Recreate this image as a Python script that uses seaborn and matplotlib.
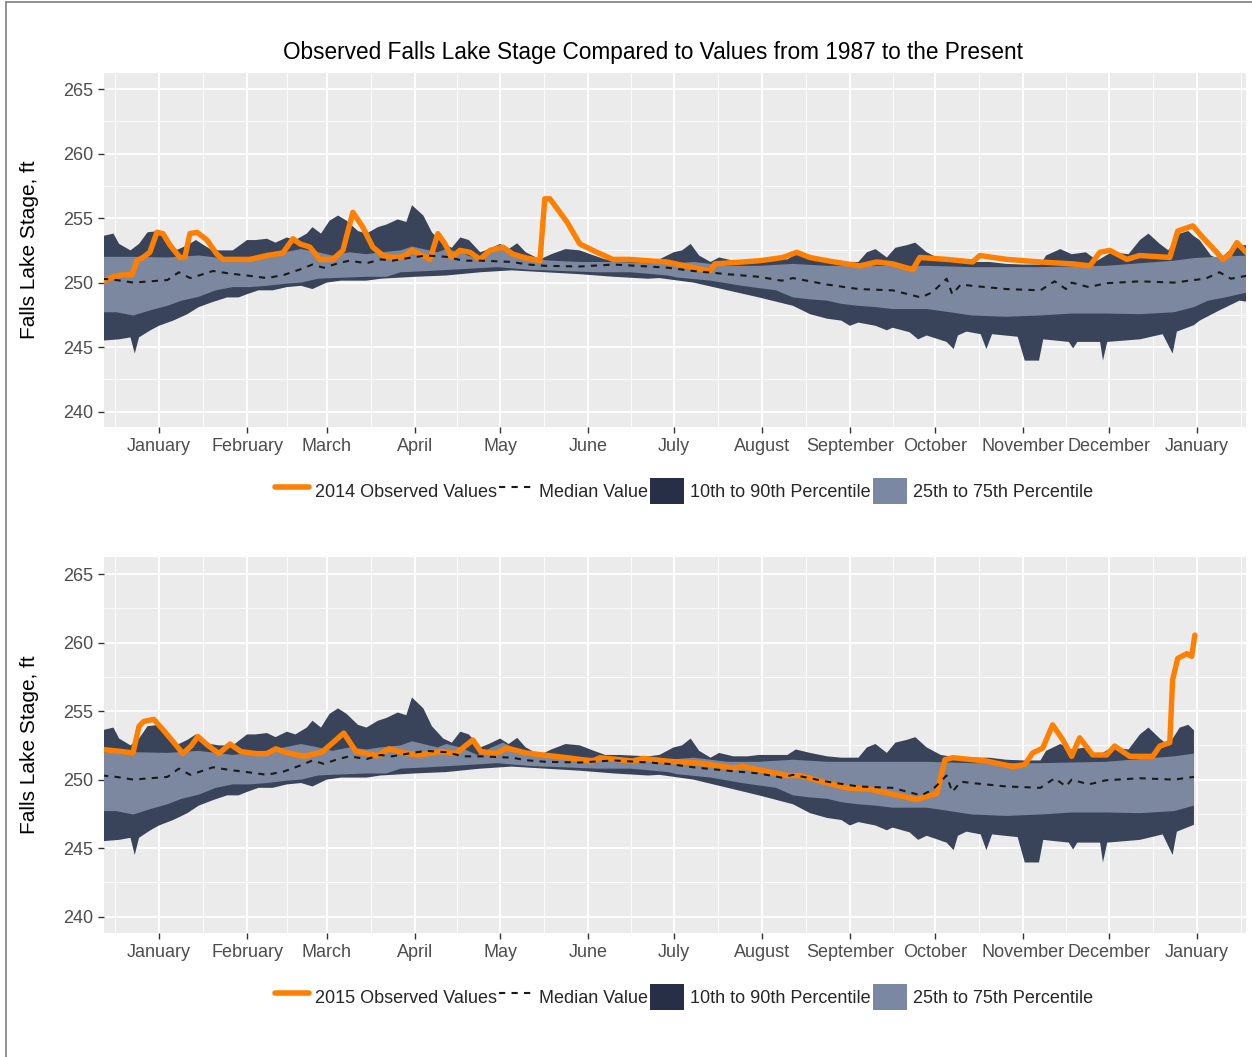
import matplotlib
matplotlib.use("Agg")
import matplotlib.pyplot as plt
import seaborn as sns
from matplotlib.patches import Patch
from matplotlib.lines import Line2D

# ========== DATA (x = days from Jan 1; negative = December of prior year) ==========
month_days = [0, 31, 59, 90, 120, 151, 181, 212, 243, 273, 304, 334, 365]
month_names = ['January', 'February', 'March', 'April', 'May', 'June', 'July',
               'August', 'September', 'October', 'November', 'December', 'January']
y_ticks = [240, 245, 250, 255, 260, 265]

# 10th to 90th percentile envelope
p90_day = [-20, -16, -14, -10, -7, -4, 0, 3, 6, 10, 13, 18, 21, 26, 31, 34, 38, 41, 45, 48,
           52, 54, 57, 60, 63, 66, 70, 73, 77, 80, 84, 87, 89, 93, 96, 100, 103, 106, 109, 113,
           116, 120, 123, 126, 129, 134, 138, 143, 148, 153, 157, 162, 167, 172, 176, 181, 184, 187, 190, 194,
           197, 202, 207, 211, 216, 221, 224, 229, 235, 240, 246, 249, 252, 256, 259, 263, 266, 270, 275, 281,
           286, 292, 298, 304, 310, 312, 317, 321, 326, 330, 335, 341, 345, 348, 352, 355, 359, 362, 364, 366,
           370, 373, 377, 380, 383]
p90_val = [253.6, 253.8, 253.0, 252.5, 253.0, 253.9, 254.0, 253.3, 252.5, 252.9, 253.3, 252.6, 252.5, 252.5, 253.3, 253.3, 253.4, 253.1, 253.5, 253.3,
           253.8, 254.3, 253.8, 254.8, 255.2, 254.8, 254.0, 253.8, 254.3, 254.5, 254.9, 254.7, 256.0, 255.2, 253.9, 253.0, 252.7, 253.5, 253.3, 252.35,
           252.6, 253.0, 252.6, 253.05, 252.35, 251.8, 252.2, 252.6, 252.5, 252.1, 251.8, 251.8, 251.75, 251.7, 251.8, 252.35, 252.5, 253.0, 252.1, 251.6,
           251.95, 251.7, 251.7, 251.8, 251.8, 251.8, 252.2, 251.95, 251.7, 251.6, 251.6, 252.35, 252.6, 251.95, 252.7, 252.9, 253.1, 252.35, 251.8, 251.6,
           251.6, 251.6, 251.45, 251.4, 251.4, 252.1, 252.6, 252.2, 252.35, 251.7, 252.35, 252.2, 253.3, 253.8, 253.0, 252.5, 253.8, 254.0, 253.6, 253.3,
           252.1, 251.8, 252.6, 252.9, 252.9]

p10_day = [-20, -14, -10, -8.5, -7, -3, 0, 5, 10, 14, 19, 24, 28, 31, 35, 40, 45, 50, 54, 59,
           64, 73, 78, 90, 101, 113, 124, 136, 148, 160, 172, 176, 188, 200, 211, 223, 229, 235, 240, 243,
           246, 252, 256, 258, 264, 267, 270, 277, 279.5, 281, 284, 289, 291, 293, 302, 304.5, 309.5, 311, 320, 321.5,
           323, 331, 332, 333.5, 345, 353, 356.5, 358, 364, 366, 373, 380, 383]
p10_val = [245.5, 245.6, 245.75, 244.5, 245.75, 246.3, 246.65, 247.05, 247.55, 248.1, 248.5, 248.85, 248.85, 249.1, 249.4, 249.4, 249.65, 249.75, 249.5, 250.0,
           250.15, 250.15, 250.3, 250.45, 250.55, 250.8, 250.95, 250.8, 250.65, 250.45, 250.3, 250.35, 250.0, 249.4, 248.85, 248.2, 247.55, 247.2, 247.05, 246.65,
           246.9, 246.65, 246.3, 246.5, 246.15, 245.6, 245.9, 245.4, 244.85, 245.9, 246.2, 246.0, 244.85, 246.0, 245.8, 243.95, 243.95, 245.6, 245.4, 244.9,
           245.4, 245.4, 243.95, 245.4, 245.6, 246.0, 244.5, 246.2, 246.7, 247.05, 247.85, 248.6, 248.5]

# 25th to 75th percentile envelope
p75_day = [-20, -9, 3, 14, 26, 38, 50, 56, 61, 67, 73, 78, 85, 89, 93, 98, 101, 106, 112, 117,
           121, 127, 133, 138, 148, 160, 172, 179, 188, 200, 211, 223, 235, 247, 258, 270, 286, 310, 333, 357,
           364, 372, 383]
p75_val = [252.0, 252.0, 251.95, 252.1, 251.8, 252.1, 252.6, 252.35, 252.1, 252.35, 252.2, 252.35, 252.5, 252.8, 252.6, 252.35, 252.6, 252.35, 251.8, 252.35,
           252.7, 252.1, 251.8, 251.7, 251.6, 251.6, 251.5, 251.45, 251.6, 251.3, 251.3, 251.45, 251.3, 251.3, 251.3, 251.3, 251.2, 251.2, 251.3, 251.7,
           251.9, 252.0, 252.1]

p25_day = [-20, -15, -9, -3, 3, 8, 14, 20, 26, 32, 38, 44, 50, 56, 61, 73, 80, 85, 95, 107,
           119, 130, 142, 154, 166, 179, 182, 194, 205, 217, 223, 229, 235, 240, 246, 252, 258, 264, 270, 275,
           286, 298, 310, 321, 333, 345, 357, 364, 369, 375, 383]
p25_val = [247.7, 247.7, 247.45, 247.85, 248.2, 248.6, 248.9, 249.4, 249.65, 249.65, 249.75, 249.9, 250.0, 250.3, 250.35, 250.45, 250.45, 250.8, 250.9, 251.05,
           251.2, 251.0, 250.9, 250.8, 250.8, 250.55, 250.4, 250.15, 249.75, 249.4, 248.85, 248.7, 248.6, 248.35, 248.2, 248.1, 247.95, 247.95, 247.95, 247.8,
           247.45, 247.35, 247.45, 247.6, 247.6, 247.55, 247.7, 248.1, 248.6, 248.85, 249.25]

# Median
med_day = [-20, -15, -9, -3, 3, 7, 11, 14, 19, 25, 31, 38, 44, 50, 54, 58, 63, 67, 73, 78,
           82, 89, 94, 101, 107, 113, 119, 124, 130, 136, 148, 160, 172, 179, 188, 200, 211, 219, 223, 235,
           246, 258, 268, 272, 277, 279, 282, 286, 298, 310, 315, 319, 321, 327, 333, 345, 357, 364, 368, 373,
           377, 383]
med_val = [250.3, 250.2, 250.0, 250.1, 250.2, 250.8, 250.35, 250.55, 250.9, 250.7, 250.55, 250.35, 250.6, 251.05, 251.4, 251.15, 251.5, 251.7, 251.5, 251.8,
           251.7, 251.95, 252.1, 252.0, 251.7, 251.7, 251.65, 251.6, 251.4, 251.3, 251.25, 251.4, 251.25, 251.15, 250.9, 250.65, 250.45, 250.15, 250.35, 249.85,
           249.5, 249.4, 248.85, 249.25, 250.3, 249.1, 249.85, 249.75, 249.5, 249.4, 250.1, 249.5, 250.0, 249.65, 249.95, 250.1, 250.0, 250.2, 250.3, 250.8,
           250.3, 250.55]

# Observed 2014
obs14_day = [-20, -16, -13, -9.5, -7.7, -5.6, -3.2, -0.7, 1.4, 3.9, 7.4, 9.1, 10.9, 13.4, 16.9, 20.4, 22.5, 32, 38, 43.6,
             47.1, 49.6, 53.1, 56.6, 61.2, 64.7, 68.2, 71.7, 75.2, 78.8, 82.3, 85.8, 89, 91.8, 95.3, 98.1, 100.6, 103, 105.8, 109.4,
             112.9, 116.4, 121, 124.5, 129.4, 134, 135.7, 137.5, 143.5, 148, 154, 159.6, 165.6, 171.6, 178.6, 193.7, 195.5, 205.3, 211.3, 214.8,
             219.4, 224.3, 228.9, 234.9, 240.5, 246.5, 252.5, 258.1, 265.1, 267.6, 277.1, 286.2, 288.7, 298.2, 309.8, 321.4, 327.4, 330.9, 334.4, 340.4,
             344.9, 355.5, 358.3, 363.6, 367.1, 372, 374.1, 376.6, 379.1, 383]
obs14_val = [250.1, 250.45, 250.6, 250.6, 251.7, 251.95, 252.35, 253.9, 253.8, 252.9, 251.95, 251.95, 253.8, 253.9, 253.3, 252.2, 251.8, 251.8, 252.1, 252.3,
             253.4, 253.0, 252.75, 251.8, 251.8, 252.5, 255.45, 254.3, 252.75, 252.1, 251.95, 252.0, 252.5, 252.2, 251.8, 253.8, 253.0, 251.95, 252.5, 252.35,
             251.8, 252.5, 252.75, 252.2, 251.9, 251.7, 256.5, 256.5, 254.7, 253.0, 252.35, 251.8, 251.8, 251.7, 251.6, 250.9, 251.45, 251.6, 251.7, 251.8,
             251.95, 252.35, 251.95, 251.7, 251.5, 251.3, 251.6, 251.45, 251.0, 251.95, 251.8, 251.6, 252.1, 251.8, 251.6, 251.45, 251.3, 252.35, 252.5, 251.8,
             252.1, 251.95, 254.0, 254.4, 253.5, 252.35, 251.8, 252.2, 253.1, 252.2]

# Observed 2015
obs15_day = [-20, -13, -9.1, -7, -5.3, -1.8, 1.4, 5.3, 8.4, 11.3, 13.7, 16.9, 21.1, 25, 28.8, 34.1, 38, 41.1, 44.3, 51,
             57.3, 61.2, 65, 69.3, 73.1, 77, 80.9, 86.1, 91.4, 99.2, 104.4, 110.4, 113.2, 118.5, 122.4, 129, 143.5, 152.6, 155.1, 166.7,
             170.2, 178.6, 190.2, 201.8, 205.3, 213.8, 220.8, 225.4, 232.4, 241.9, 250, 266.5, 273.6, 276.4, 279.2, 291.1, 300.3, 304.5, 307.3, 310.8,
             314.3, 317.9, 321, 323.8, 328.4, 333.3, 336.1, 341.4, 349.5, 352, 355.5, 356.5, 358.3, 361.5, 363.2, 364.3]
obs15_val = [252.2, 252.05, 251.95, 253.9, 254.25, 254.4, 253.65, 252.7, 251.9, 252.45, 253.15, 252.55, 251.9, 252.6, 252.05, 251.9, 251.9, 252.25, 252.0, 251.7,
             252.0, 252.7, 253.4, 252.05, 251.9, 251.75, 252.25, 251.95, 251.8, 252.05, 251.9, 252.9, 252.05, 251.9, 252.3, 251.95, 251.6, 251.35, 251.6, 251.35,
             251.55, 251.35, 251.2, 250.85, 250.95, 250.6, 250.3, 250.3, 249.9, 249.4, 249.3, 248.55, 249.0, 251.45, 251.6, 251.35, 250.95, 251.1, 251.95, 252.3,
             254.0, 252.9, 251.7, 253.05, 251.8, 251.8, 252.45, 251.7, 251.7, 252.45, 252.7, 257.3, 258.85, 259.2, 259.0, 260.55]

# ========== STYLE ==========
ORANGE = '#FF8000'
DARK = '#39445A'
LIGHT = '#7C88A0'
DARK_KEY = '#262F46'
LIGHT_KEY = '#7B88A3'

sns.set_theme(style="darkgrid", rc={
    'axes.facecolor': '#EBEBEB',
    'grid.color': 'white',
    'figure.facecolor': 'white',
})
plt.rcParams['font.family'] = ['Liberation Sans', 'DejaVu Sans']

fig = plt.figure(figsize=(12.52, 10.57), dpi=100)
ax_top = fig.add_axes([0.0831, 0.5960, 0.9121, 0.3349])
ax_bot = fig.add_axes([0.0831, 0.1173, 0.9121, 0.3557])


def keep(days, vals, cut):
    pairs = [(d, v) for d, v in zip(days, vals) if d <= cut]
    return [p[0] for p in pairs], [p[1] for p in pairs]


def band(ax, d_hi, v_hi, d_lo, v_lo, color, cut):
    xh, yh = keep(d_hi, v_hi, cut)
    xl, yl = keep(d_lo, v_lo, cut)
    ax.fill(xh + xl[::-1], yh + yl[::-1], color=color, lw=0, zorder=2)


def draw_panel(ax, obs_day, obs_val, cut):
    band(ax, p90_day, p90_val, p10_day, p10_val, DARK, cut)
    band(ax, p75_day, p75_val, p25_day, p25_val, LIGHT, cut)
    sns.lineplot(x=obs_day, y=obs_val, ax=ax, color=ORANGE, lw=3.9,
                 estimator=None, sort=False, zorder=3)
    md, mv = keep(med_day, med_val, cut)
    sns.lineplot(x=md, y=mv, ax=ax, color='#1A1A1A', lw=1.5,
                 linestyle=(0, (3, 3)), estimator=None, sort=False, zorder=4)

    ax.set_xticks(month_days)
    ax.set_xticklabels(month_names)
    ext = [-31] + month_days + [396]
    ax.set_xticks([(a + b) / 2 for a, b in zip(ext[:-1], ext[1:])], minor=True)
    ax.set_yticks(y_ticks)
    ax.set_yticks([t + 2.5 for t in [235] + y_ticks], minor=True)
    # limits last: setting ticks outside the view would widen it
    ax.set_xlim(-19.3, 382.3)
    ax.set_ylim(238.8, 266.25)
    ax.grid(which='major', color='white', lw=1.3)
    ax.grid(which='minor', color='white', lw=0.6)
    ax.tick_params(which='major', bottom=True, left=True, length=4, width=1,
                   color='#333333', labelcolor='#4D4D4D', labelsize=13, pad=4)
    ax.tick_params(which='minor', bottom=False, left=False)
    for s in ax.spines.values():
        s.set_visible(False)
    ax.set_xlabel('')
    ax.set_ylabel('Falls Lake Stage, ft', fontsize=15, color='black')
    ax.yaxis.set_label_coords(-0.057, 0.5)


draw_panel(ax_top, obs14_day, obs14_val, 999)
draw_panel(ax_bot, obs15_day, obs15_val, 365)

fig.text(653 / 1252, 1 - 53 / 1057,
         'Observed Falls Lake Stage Compared to Values from 1987 to the Present',
         ha='center', va='center', fontsize=16.3, color='black')

for year, ypix in [(2014, 491), (2015, 997)]:
    handles = [Line2D([], [], color=ORANGE, lw=4),
               Line2D([], [], color='#1A1A1A', lw=1.5, linestyle=(0, (3, 3))),
               Patch(facecolor=DARK_KEY, edgecolor='none'),
               Patch(facecolor=LIGHT_KEY, edgecolor='none')]
    labels = [f'{year} Observed Values', 'Median Value',
              '10th to 90th Percentile', '25th to 75th Percentile']
    fig.legend(handles, labels, loc='center', bbox_to_anchor=(684 / 1252, 1 - ypix / 1057),
               ncol=4, frameon=False, fontsize=13, handlelength=1.9, handleheight=1.9,
               handletextpad=0.35, columnspacing=0.08, borderpad=0, borderaxespad=0)

# thin frame round the picture
fig.add_artist(Line2D([0.0045, 0.0045], [0, 0.998], transform=fig.transFigure, color='#7F7F7F', lw=1.2))
fig.add_artist(Line2D([0.0045, 1], [0.998, 0.998], transform=fig.transFigure, color='#7F7F7F', lw=1.2))

fig.savefig('out.png', dpi=100)
